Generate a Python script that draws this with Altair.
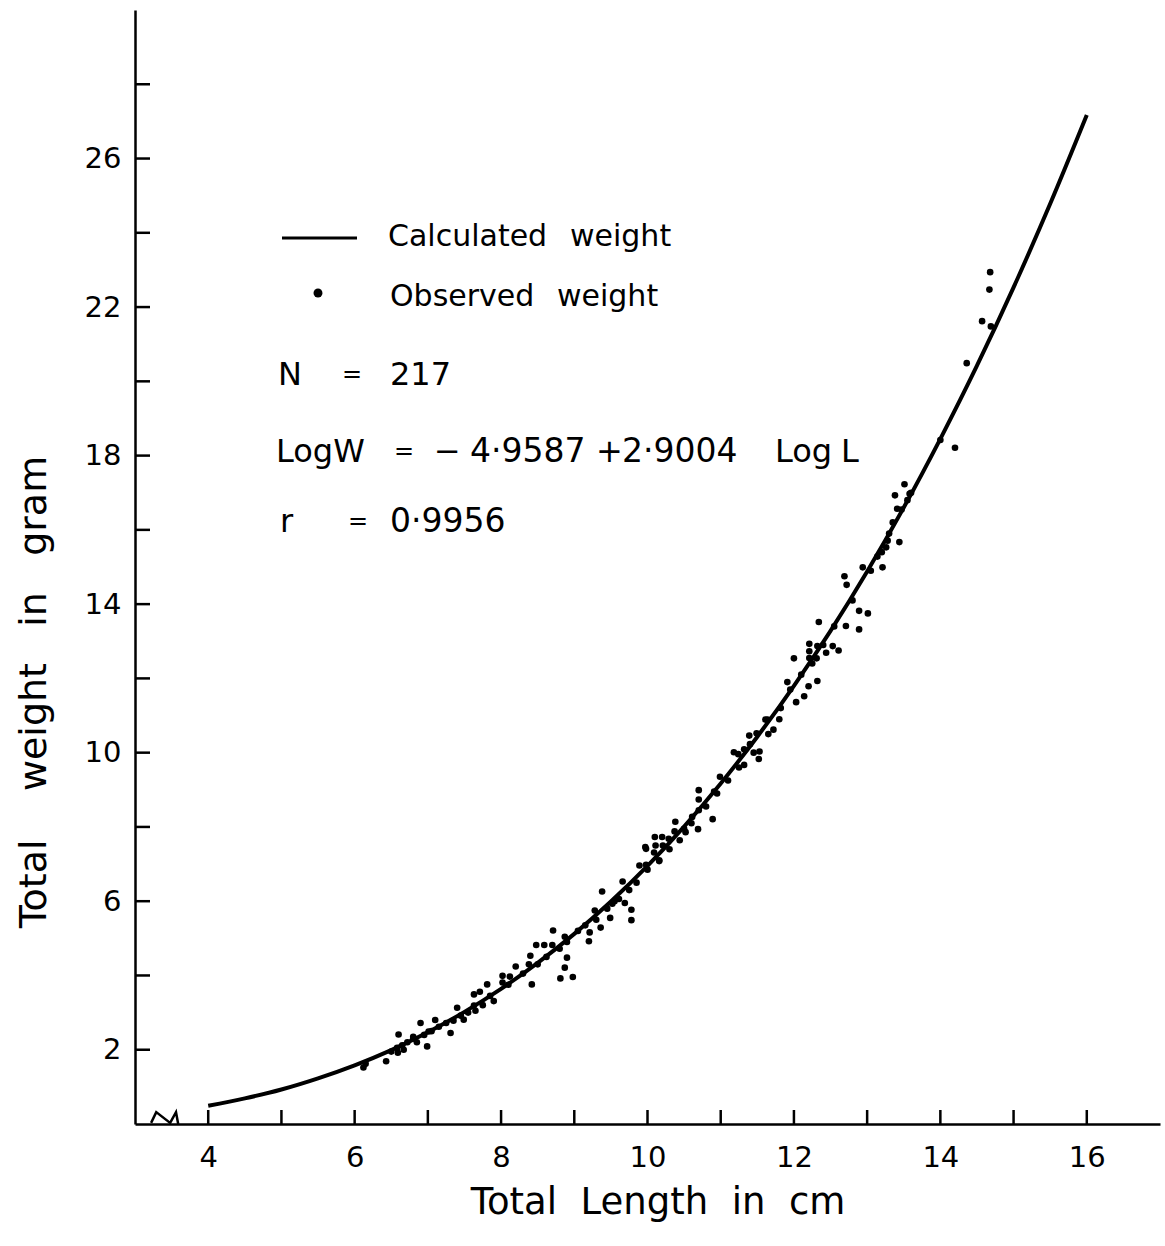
import altair as alt
import pandas as pd

# ---------------- data ----------------
# observed weights (total length in cm, total weight in g)
obs_length = [
    6.12, 6.15, 6.43, 6.50, 6.58, 6.59, 6.60, 6.65, 6.67, 6.72, 6.80, 6.80, 6.85, 6.90, 6.95, 6.99,
    7.01, 7.05, 7.10, 7.15, 7.25, 7.31, 7.35, 7.40, 7.45, 7.49, 7.55, 7.63, 7.63, 7.65, 7.71, 7.75,
    7.81, 7.85, 7.90, 8.02, 8.02, 8.10, 8.12, 8.20, 8.30, 8.38, 8.40, 8.42, 8.48, 8.50, 8.59, 8.62,
    8.70, 8.71, 8.80, 8.81, 8.87, 8.87, 8.90, 8.90, 8.98, 9.05, 9.15, 9.20, 9.21, 9.28, 9.30, 9.36,
    9.38, 9.45, 9.49, 9.52, 9.55, 9.61, 9.66, 9.69, 9.75, 9.78, 9.78, 9.85, 9.89, 9.97, 9.98, 9.98,
    10.00, 10.09, 10.10, 10.11, 10.16, 10.16, 10.20, 10.21, 10.29, 10.30, 10.37, 10.38, 10.44, 10.50,
    10.52, 10.60, 10.61, 10.69, 10.70, 10.70, 10.70, 10.80, 10.89, 10.91, 10.95, 10.99, 11.10, 11.18,
    11.24, 11.25, 11.32, 11.32, 11.39, 11.40, 11.45, 11.49, 11.52, 11.53, 11.61, 11.64, 11.65, 11.72,
    11.80, 11.82, 11.91, 11.95, 12.00, 12.03, 12.10, 12.14, 12.20, 12.21, 12.21, 12.21, 12.25, 12.31,
    12.32, 12.32, 12.34, 12.40, 12.44, 12.53, 12.55, 12.61, 12.69, 12.71, 12.72, 12.80, 12.89, 12.89,
    12.94, 13.01, 13.05, 13.14, 13.20, 13.21, 13.26, 13.28, 13.30, 13.35, 13.38, 13.41, 13.44, 13.47,
    13.51, 13.55, 13.58, 13.60, 14.00, 14.20, 14.36, 14.57, 14.67, 14.68, 14.69,
]
obs_weight = [
    1.52, 1.62, 1.69, 1.95, 2.05, 1.92, 2.41, 2.12, 2.00, 2.20, 2.30, 2.35, 2.20, 2.72, 2.40, 2.09,
    2.49, 2.50, 2.80, 2.62, 2.72, 2.45, 2.78, 3.13, 2.92, 2.81, 3.00, 3.19, 3.49, 3.05, 3.56, 3.20,
    3.76, 3.45, 3.31, 3.81, 3.99, 3.75, 3.97, 4.24, 4.05, 4.30, 4.53, 3.76, 4.82, 4.30, 4.82, 4.50,
    4.82, 5.21, 4.72, 3.92, 4.21, 5.04, 4.48, 4.90, 3.96, 5.20, 5.35, 4.92, 5.16, 5.75, 5.50, 5.29,
    6.26, 5.80, 5.55, 5.93, 6.00, 6.06, 6.53, 5.95, 6.30, 5.77, 5.49, 6.50, 6.96, 7.46, 6.98, 7.41,
    6.85, 7.31, 7.73, 7.50, 7.10, 7.08, 7.73, 7.50, 7.68, 7.40, 7.88, 8.14, 7.64, 7.95,
    7.86, 8.10, 8.27, 7.94, 8.99, 8.74, 8.45, 8.55, 8.21, 8.95, 8.90, 9.35, 9.25, 10.01,
    9.96, 9.60, 10.09, 9.67, 10.46, 10.23, 10.00, 10.52, 9.83, 10.03, 10.89, 10.89, 10.50, 10.62,
    10.90, 11.20, 11.90, 11.70, 12.54, 11.36, 12.10, 11.52, 11.79, 12.93, 12.73, 12.55, 12.40, 12.54,
    12.87, 11.93, 13.52, 12.90, 12.69, 12.87, 13.40, 12.75, 14.75, 13.41, 14.52, 14.10, 13.82, 13.32,
    14.99, 13.75, 14.90, 15.28, 15.40, 14.99, 15.53, 15.71, 15.90, 16.20, 16.93, 16.57, 15.67, 16.55,
    17.23, 16.80, 16.97, 17.00, 18.42, 18.21, 20.49, 21.62, 22.47, 22.94, 21.48,
]
# calculated weight curve
calc_length = [4.0, 4.5, 5.0, 5.5, 6.0, 6.5, 7.0, 7.5, 8.0, 8.5, 9.0, 9.5, 10.0,
               10.5, 11.0, 11.5, 12.0, 12.5, 13.0, 13.5, 14.0, 14.5, 15.0, 15.5, 16.0]
calc_weight = [0.49, 0.69, 0.93, 1.23, 1.58, 1.99, 2.47, 3.02, 3.64, 4.34, 5.12, 5.99, 6.95,
               8.01, 9.17, 10.43, 11.80, 13.28, 14.88, 16.60, 18.45, 20.42, 22.53, 24.78, 27.17]

x_tick_values = [4, 5, 6, 7, 8, 9, 10, 11, 12, 13, 14, 15, 16]
x_label_values = [4, 6, 8, 10, 12, 14, 16]
y_tick_values = [2, 4, 6, 8, 10, 12, 14, 16, 18, 20, 22, 24, 26, 28]
y_label_values = [2, 6, 10, 14, 18, 22, 26]

# axis-break zigzag near the origin
break_length = [3.22, 3.29, 3.48, 3.56, 3.59]
break_weight = [0.03, 0.32, 0.03, 0.32, 0.0]

NB = "\u00a0"
x_title = "Total" + NB * 2 + "Length" + NB * 2 + "in" + NB * 2 + "cm"
y_title = "Total" + NB * 4 + "weight" + NB * 3 + "in" + NB * 3 + "gram"

# ---------------- chart ----------------
W, H = 1025, 1114
LEFT, TOP = 135, 10
FONT = "DejaVu Sans"

xs = alt.Scale(domain=[3, 17], nice=False, zero=False)
ys = alt.Scale(domain=[0, 30], nice=False, zero=False)

x_axis = alt.Axis(values=x_label_values, ticks=False, grid=False, title=None,
                  domainColor="black", domainWidth=2.5, labelColor="black",
                  labelFont=FONT, labelFontSize=29, labelPadding=19)
y_axis = alt.Axis(values=y_label_values, ticks=False, grid=False, title=None,
                  domainColor="black", domainWidth=2.5, labelColor="black",
                  labelFont=FONT, labelFontSize=29, labelPadding=14)


def X(field):
    return alt.X(field, type="quantitative", scale=xs, axis=x_axis)


def Y(field):
    return alt.Y(field, type="quantitative", scale=ys, axis=y_axis)


calc_df = pd.DataFrame({"L": calc_length, "W": calc_weight})
obs_df = pd.DataFrame({"L": obs_length, "W": obs_weight})
brk_df = pd.DataFrame({"L": break_length, "W": break_weight})
xt_df = pd.DataFrame({"L": x_tick_values})
yt_df = pd.DataFrame({"W": y_tick_values})
one = pd.DataFrame({"a": [0]})

curve = alt.Chart(calc_df).mark_line(color="black", strokeWidth=4, interpolate="monotone").encode(
    x=X("L"), y=Y("W"))
points = alt.Chart(obs_df).mark_circle(color="black", opacity=1, size=44).encode(
    x=X("L"), y=Y("W"))
brk = alt.Chart(brk_df).mark_line(color="black", strokeWidth=2.5).encode(
    x=X("L"), y=Y("W"))
xticks = alt.Chart(xt_df).mark_rule(color="black", strokeWidth=2.5).encode(
    x=X("L"), y=alt.value(H), y2=alt.value(H - 14))
yticks = alt.Chart(yt_df).mark_rule(color="black", strokeWidth=2.5).encode(
    y=Y("W"), x=alt.value(0), x2=alt.value(15))


def label(text, px, py, size=30, align="left", angle=0):
    return alt.Chart(one).mark_text(
        text=text, font=FONT, fontSize=size, color="black",
        align=align, baseline="middle", angle=angle,
    ).encode(x=alt.value(px - LEFT), y=alt.value(py - TOP))


legend_line = alt.Chart(one).mark_rule(color="black", strokeWidth=3).encode(
    x=alt.value(282 - LEFT), x2=alt.value(357 - LEFT), y=alt.value(238 - TOP))
legend_dot = alt.Chart(one).mark_circle(color="black", opacity=1, size=80).encode(
    x=alt.value(318 - LEFT), y=alt.value(293 - TOP))

texts = [
    label("Calculated", 388, 237, 30),
    label("weight", 570, 237, 30),
    label("Observed", 390, 297, 30),
    label("weight", 557, 297, 30),
    label("N", 278, 375, 32),
    label("=", 352, 375, 24, align="center"),
    label("217", 390, 375, 32),
    label("LogW", 276, 452, 32),
    label("=", 404, 452, 24, align="center"),
    label("\u2212", 434, 452, 32),
    label("4\u00b79587", 470, 452, 33),
    label("+", 596, 452, 32),
    label("2\u00b79004", 622, 452, 33),
    label("Log", 775, 452, 32),
    label("L", 841, 452, 32),
    label("r", 280, 522, 32),
    label("=", 358, 522, 24, align="center"),
    label("0\u00b79956", 390, 522, 33),
    label(x_title, 658, 1203, 37, align="center"),
    label(y_title, 35, 692, 38, align="center", angle=270),
]

chart = alt.layer(curve, points, brk, xticks, yticks, legend_line, legend_dot, *texts).properties(
    width=W, height=H,
    autosize=alt.AutoSizeParams(type="none"),
    padding={"left": LEFT, "top": TOP, "right": 1165 - LEFT - W, "bottom": 1246 - TOP - H},
    background="white",
).configure_view(stroke=None)

chart.save("out.html", embed_options={"renderer": "svg", "actions": False})
